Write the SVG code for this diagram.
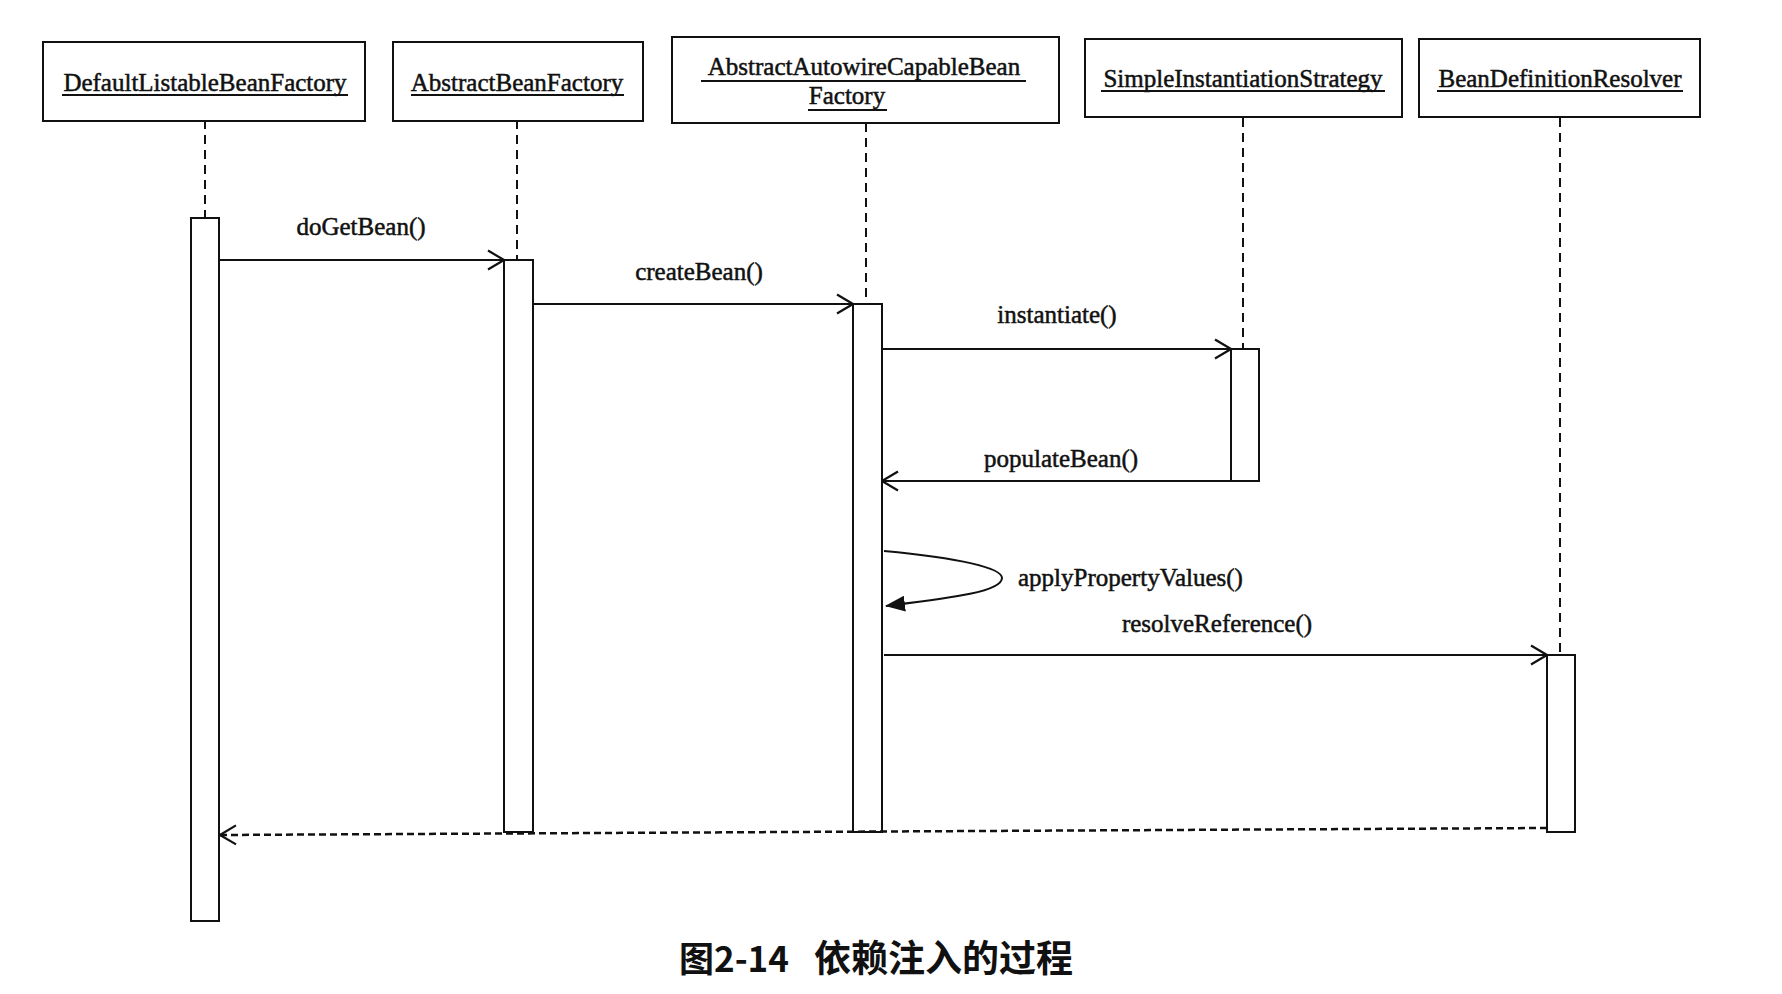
<svg xmlns="http://www.w3.org/2000/svg" width="1782" height="994" viewBox="0 0 1782 994">
<style>
.box{fill:#fff;stroke:#111;stroke-width:2}
.act{fill:#fff;stroke:#111;stroke-width:2}
.life{stroke:#111;stroke-width:2;stroke-dasharray:9 6;fill:none}
.msg{stroke:#111;stroke-width:2;fill:none}
.ret{stroke:#111;stroke-width:2.5;stroke-dasharray:7 4;fill:none}
.t{font-family:"Liberation Serif","Times New Roman",serif;font-size:25px;fill:#111;stroke:#111;stroke-width:0.5}
.ul{stroke:#111;stroke-width:1.8}
.cap{font-family:"Noto Sans CJK SC","Noto Sans",sans-serif;font-size:35px;font-weight:bold;fill:#111}
</style>
<defs>
<marker id="open" viewBox="0 0 18 22" refX="17" refY="11" markerWidth="18" markerHeight="22" markerUnits="userSpaceOnUse" orient="auto">
<path d="M1 1.5 L17 11 L1 20.5" fill="none" stroke="#111" stroke-width="2.2"/>
</marker>
<marker id="fill" viewBox="0 0 20 16" refX="19" refY="8" markerWidth="20" markerHeight="16" markerUnits="userSpaceOnUse" orient="auto">
<path d="M0 0 L20 8 L0 16 Z" fill="#111"/>
</marker>
</defs>
<rect width="1782" height="994" fill="#fff"/>

<g id="lifelines">
<line class="life" x1="205" y1="120" x2="205" y2="218"/>
<line class="life" x1="517" y1="120" x2="517" y2="260"/>
<line class="life" x1="866" y1="123" x2="866" y2="303"/>
<line class="life" x1="1243" y1="118" x2="1243" y2="349"/>
<line class="life" x1="1560" y1="118" x2="1560" y2="655"/>
</g>

<g id="node-default">
<rect class="box" x="43" y="42" width="322" height="79"/>
<text class="t" x="205" y="91" text-anchor="middle">DefaultListableBeanFactory</text>
<line class="ul" x1="62" y1="95" x2="348" y2="95"/>
</g>
<g id="node-abstract">
<rect class="box" x="393" y="42" width="250" height="79"/>
<text class="t" x="517" y="91" text-anchor="middle">AbstractBeanFactory</text>
<line class="ul" x1="411" y1="95" x2="624" y2="95"/>
</g>
<g id="node-autowire">
<rect class="box" x="672" y="37" width="387" height="86"/>
<text class="t" x="864" y="75" text-anchor="middle">AbstractAutowireCapableBean</text>
<line class="ul" x1="701" y1="81" x2="1026" y2="81"/>
<text class="t" x="847" y="104" text-anchor="middle">Factory</text>
<line class="ul" x1="808" y1="110" x2="887" y2="110"/>
</g>
<g id="node-simple">
<rect class="box" x="1085" y="39" width="317" height="78"/>
<text class="t" x="1243" y="87" text-anchor="middle">SimpleInstantiationStrategy</text>
<line class="ul" x1="1101" y1="91" x2="1385" y2="91"/>
</g>
<g id="node-resolver">
<rect class="box" x="1419" y="39" width="281" height="78"/>
<text class="t" x="1560" y="87" text-anchor="middle">BeanDefinitionResolver</text>
<line class="ul" x1="1437" y1="91" x2="1683" y2="91"/>
</g>

<g id="activations">
<rect class="act" x="191" y="218" width="28" height="703"/>
<rect class="act" x="504" y="260" width="29" height="572"/>
<rect class="act" x="853" y="304" width="29" height="528"/>
<rect class="act" x="1231" y="349" width="28" height="132"/>
<rect class="act" x="1547" y="655" width="28" height="177"/>
</g>

<g id="connectors">
<line class="msg" x1="219" y1="260" x2="504" y2="260" marker-end="url(#open)"/>
<line class="msg" x1="533" y1="304" x2="853" y2="304" marker-end="url(#open)"/>
<line class="msg" x1="882" y1="349" x2="1231" y2="349" marker-end="url(#open)"/>
<line class="msg" x1="1231" y1="481" x2="882" y2="481" marker-end="url(#open)"/>
<path class="msg" d="M884 551 C960 558 1002 568 1002 578 C1002 592 950 598 886 606" marker-end="url(#fill)"/>
<line class="msg" x1="884" y1="655" x2="1547" y2="655" marker-end="url(#open)"/>
<line class="ret" x1="1547" y1="828" x2="220" y2="835" marker-end="url(#open)"/>
</g>

<g id="labels">
<text class="t" x="361" y="235" text-anchor="middle">doGetBean()</text>
<text class="t" x="699" y="280" text-anchor="middle">createBean()</text>
<text class="t" x="1057" y="323" text-anchor="middle">instantiate()</text>
<text class="t" x="1061" y="467" text-anchor="middle">populateBean()</text>
<text class="t" x="1018" y="586">applyPropertyValues()</text>
<text class="t" x="1217" y="632" text-anchor="middle">resolveReference()</text>
</g>

<text class="cap" y="972"><tspan x="679">图2-14</tspan><tspan x="814" font-size="37">依赖注入的过程</tspan></text>
</svg>
